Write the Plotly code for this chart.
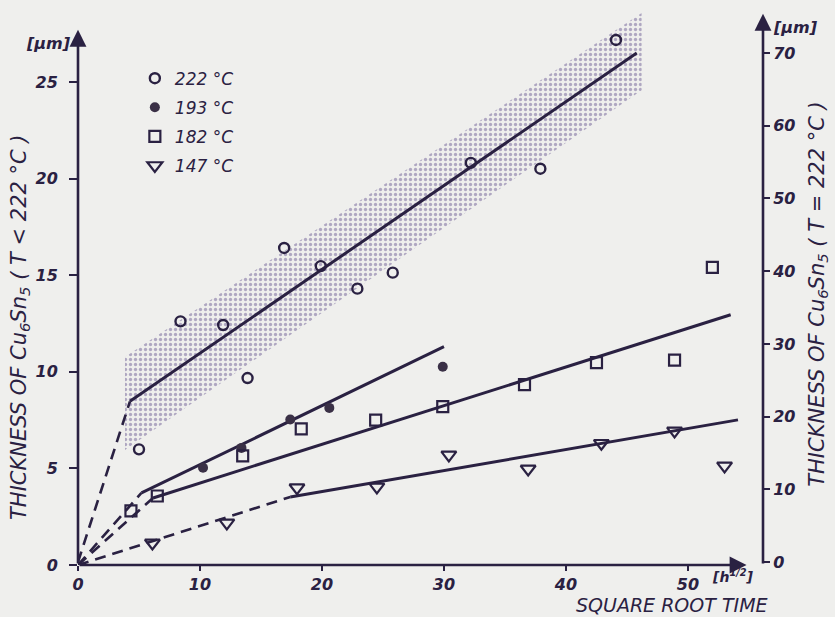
import plotly.graph_objects as go

# ---------------- data ----------------
# 222 °C  (plotted against the right axis)
x222 = [5.0, 8.4, 11.9, 13.9, 16.9, 19.9, 22.9, 25.8, 32.2, 37.9, 44.1]
y222 = [15.5, 33.1, 32.6, 25.3, 43.2, 40.7, 37.6, 39.8, 54.9, 54.1, 71.8]
# 193 °C  (left axis)
x193 = [10.25, 13.4, 17.4, 20.6, 29.9]
y193 = [5.03, 6.06, 7.53, 8.13, 10.26]
# 182 °C  (left axis)
x182 = [4.34, 6.5, 13.5, 18.3, 24.4, 29.9, 36.6, 42.5, 48.9, 52.0]
y182 = [2.8, 3.57, 5.65, 7.04, 7.5, 8.2, 9.33, 10.47, 10.6, 15.4]
# 147 °C  (left axis)
x147 = [6.1, 12.2, 17.95, 24.5, 30.4, 36.9, 42.9, 48.9, 53.0]
y147 = [1.14, 2.18, 4.0, 4.04, 5.7, 4.97, 6.3, 6.94, 5.13]

# fitted lines: dashed part from origin, then solid part
fit222_dash_x, fit222_dash_y = [0, 4.26], [0, 22.1]
fit222_x, fit222_y = [4.26, 45.8], [22.1, 70.0]
fit193_dash_x, fit193_dash_y = [0, 5.2], [0, 3.73]
fit193_x, fit193_y = [5.2, 30.0], [3.73, 11.3]
fit182_dash_x, fit182_dash_y = [0, 6.15], [0, 3.47]
fit182_x, fit182_y = [6.15, 53.5], [3.47, 12.95]
fit147_dash_x, fit147_dash_y = [0, 17.4], [0, 3.52]
fit147_x, fit147_y = [17.4, 54.1], [3.52, 7.51]

# scatter band around the 222 °C line (right axis units)
band_x = [3.85, 46.2, 46.2, 3.85, 3.85]
band_y = [28.2, 75.5, 64.9, 15.4, 28.2]

x_ticks = [0, 10, 20, 30, 40, 50]
yl_ticks = [0, 5, 10, 15, 20, 25]
yr_ticks = [0, 10, 20, 30, 40, 50, 60, 70]

legend_names = ["222 °C", "193 °C", "182 °C", "147 °C"]

# ---------------- style ----------------
INK = "#2a2142"
BG = "#efefed"
FONT = "DejaVu Sans"

fig = go.Figure()

# band
fig.add_trace(go.Scatter(
    x=band_x, y=band_y, yaxis="y2", mode="lines", fill="toself",
    line=dict(width=0, color="rgba(0,0,0,0)"),
    fillcolor="rgba(0,0,0,0)",
    fillpattern=dict(shape=".", fgcolor="#6f5f96", bgcolor=BG, size=5, solidity=0.35),
    showlegend=False, hoverinfo="skip"))

def add_fit(dx, dy, sx, sy, axis):
    fig.add_trace(go.Scatter(x=dx, y=dy, yaxis=axis, mode="lines",
                             line=dict(color=INK, width=2.6, dash="11px,7px"),
                             showlegend=False, hoverinfo="skip"))
    fig.add_trace(go.Scatter(x=sx, y=sy, yaxis=axis, mode="lines",
                             line=dict(color=INK, width=3),
                             showlegend=False, hoverinfo="skip"))

add_fit(fit222_dash_x, fit222_dash_y, fit222_x, fit222_y, "y2")
add_fit(fit193_dash_x, fit193_dash_y, fit193_x, fit193_y, "y")
add_fit(fit182_dash_x, fit182_dash_y, fit182_x, fit182_y, "y")
add_fit(fit147_dash_x, fit147_dash_y, fit147_x, fit147_y, "y")

# markers
fig.add_trace(go.Scatter(x=x222, y=y222, yaxis="y2", mode="markers", name=legend_names[0],
                         legendgroup="a",
                         marker=dict(symbol="circle-open", size=10, color=INK, line=dict(width=2.4, color=INK))))
fig.add_trace(go.Scatter(x=x193, y=y193, yaxis="y", mode="markers", name=legend_names[1],
                         legendgroup="b",
                         marker=dict(symbol="circle", size=10, color="#3a3046")))
fig.add_trace(go.Scatter(x=x182, y=y182, yaxis="y", mode="markers", name=legend_names[2],
                         legendgroup="c",
                         marker=dict(symbol="square-open", size=11, color=INK, line=dict(width=2.2, color=INK))))
fig.add_trace(go.Scatter(x=x147, y=y147, yaxis="y", mode="markers", name=legend_names[3],
                         legendgroup="d",
                         marker=dict(symbol="triangle-down-open", size=13, color=INK, line=dict(width=2.2, color=INK))))

tickfont = dict(family=FONT, size=16, color=INK, style="italic", weight="bold")

fig.update_layout(
    width=835, height=617,
    margin=dict(l=78, r=72, t=12, b=52),
    paper_bgcolor=BG, plot_bgcolor=BG,
    xaxis=dict(range=[0, 56.15], tickvals=x_ticks, ticks="outside", ticklen=5, tickwidth=2,
               tickcolor=INK, showline=False, showgrid=False, zeroline=False, tickfont=tickfont),
    yaxis=dict(range=[0, 28.62], tickvals=yl_ticks, ticks="outside", ticklen=8, tickwidth=2,
               tickcolor=INK, showline=False, showgrid=False, zeroline=False, tickfont=tickfont,
               ticklabelstandoff=8),
    yaxis2=dict(range=[-0.41, 75.65], tickvals=yr_ticks, overlaying="y", side="right", anchor="x",
                ticks="outside", ticklen=6, tickwidth=2, tickcolor=INK, showline=False,
                showgrid=False, zeroline=False, tickfont=tickfont),
    showlegend=True,
    legend=dict(x=0.083, y=0.912, xanchor="left", yanchor="top", bgcolor="rgba(0,0,0,0)",
                font=dict(family=FONT, size=17, color=INK, style="italic"),
                tracegroupgap=4, itemsizing="trace"),
)

ann_font = dict(family=FONT, size=21, color=INK, style="italic")
annotations = [
    # axis lines with arrowheads
    dict(x=0, y=27.7, xref="x", yref="y", ax=0, ay=0, axref="x", ayref="y", text="",
         showarrow=True, arrowhead=2, arrowsize=1.3, arrowwidth=2.6, arrowcolor=INK, standoff=0),
    dict(x=56.15, y=75.4, xref="x", yref="y2", ax=56.15, ay=-0.4, axref="x", ayref="y2", text="",
         showarrow=True, arrowhead=2, arrowsize=1.3, arrowwidth=2.6, arrowcolor=INK, standoff=0),
    dict(x=54.8, y=0, xref="x", yref="y", ax=0, ay=0, axref="x", ayref="y", text="",
         showarrow=True, arrowhead=2, arrowsize=1.3, arrowwidth=2.6, arrowcolor=INK, standoff=0),
    # unit labels
    dict(x=-0.008, y=27.0, xref="paper", yref="y", text="[µm]", showarrow=False,
         xanchor="right", yanchor="middle", font=dict(family=FONT, size=16, color=INK, style="italic", weight="bold")),
    dict(x=1.012, y=73.5, xref="paper", yref="y2", text="[µm]", showarrow=False,
         xanchor="left", yanchor="middle", font=dict(family=FONT, size=16, color=INK, style="italic", weight="bold")),
    dict(x=51.8, y=0, xref="x", yref="y", text="[h<sup>1/2</sup>]", showarrow=False,
         xanchor="left", yanchor="middle", yshift=-11, font=dict(family=FONT, size=14, color=INK, style="italic", weight="bold")),
    dict(x=1.01, y=0, xref="paper", yref="paper", text="SQUARE ROOT TIME", showarrow=False,
         xanchor="right", yanchor="middle", yshift=-40, font=dict(family=FONT, size=19, color=INK, style="italic")),
    # axis titles
    dict(x=-0.085, y=0.43, xref="paper", yref="paper", textangle=-90,
         text="THICKNESS OF Cu<sub>6</sub>Sn<sub>5</sub> ( T < 222 °C )", showarrow=False,
         xanchor="center", yanchor="middle", font=ann_font),
    dict(x=1.08, y=0.49, xref="paper", yref="paper", textangle=-90,
         text="THICKNESS OF Cu<sub>6</sub>Sn<sub>5</sub> ( T = 222 °C )", showarrow=False,
         xanchor="center", yanchor="middle", font=ann_font),
]
fig.update_layout(annotations=annotations)

fig.write_html("out.html")
